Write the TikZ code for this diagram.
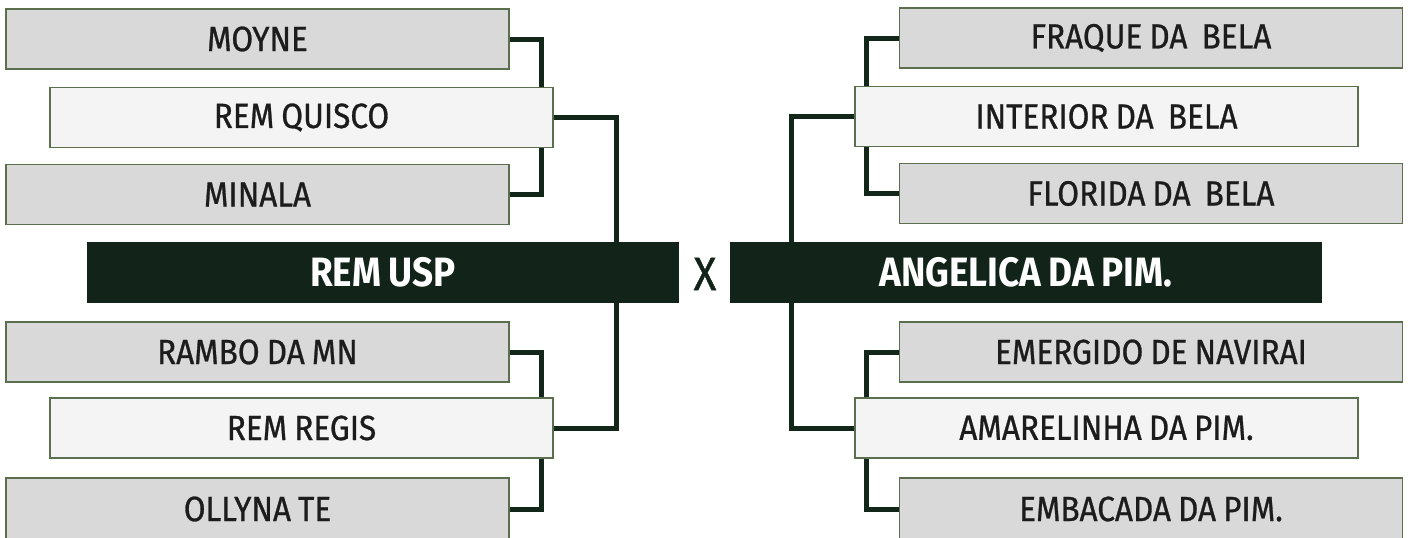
\documentclass[tikz,border=0pt]{standalone}
\usepackage{fontspec}
\setmainfont{Fira Sans}[FakeStretch=0.9, WordSpace=0.85, UprightFeatures={FakeBold=0.8}]
\usetikzlibrary{backgrounds}
\definecolor{darkg}{HTML}{12241A}
\definecolor{lineg}{HTML}{13261A}
\definecolor{bordg}{HTML}{5B6E4E}
\definecolor{outerfill}{HTML}{D9D9D9}
\definecolor{midfill}{HTML}{F4F4F4}
\definecolor{txt}{HTML}{1C1C1C}
\tikzset{
  box/.style={rectangle, draw=bordg, line width=1.3pt, inner sep=0pt,
    minimum width=503pt, minimum height=60pt, text=txt,
    font=\fontsize{35}{35}\selectfont},
  outerbox/.style={box, fill=outerfill},
  midbox/.style={box, fill=midfill},
  teambox/.style={rectangle, fill=darkg, inner sep=0pt, minimum width=592pt,
    minimum height=61pt, text=white, font=\fontsize{41}{41}\selectfont\bfseries},
  conn/.style={draw=lineg, line width=5pt}
}
\begin{document}
\begin{tikzpicture}[x=1pt,y=-1pt]
\useasboundingbox (0,0) rectangle (1408,538);
% left
\node[outerbox] (moyne) at (257.5,39) {MOYNE};
\node[midbox] (quisco) at (301.5,117.5) {REM QUISCO};
\node[outerbox] (minala) at (257.5,194.5) {MINALA};
\node[teambox] (usp) at (383,272.5) {REM USP};
\node[outerbox] (rambo) at (257.5,352) {RAMBO DA MN};
\node[midbox] (regis) at (301.5,428) {REM REGIS};
\node[outerbox, minimum height=62pt] (ollyna) at (257.5,509) {OLLYNA TE};
% center
\node[text=darkg, font=\fontsize{47}{47}\selectfont, inner sep=0pt] (vs) at (705,274) {X};
% right
\node[outerbox] (fraque) at (1151,38) {FRAQUE DA\ \ BELA};
\node[midbox] (interior) at (1106.5,116.5) {INTERIOR DA\ \ BELA};
\node[outerbox] (florida) at (1151,193.5) {FLORIDA DA\ \ BELA};
\node[teambox] (angelica) at (1026,272.5) {ANGELICA DA PIM.};
\node[outerbox] (emergido) at (1151,352) {EMERGIDO DE NAVIRAI};
\node[midbox] (amarelinha) at (1106.5,428) {AMARELINHA DA PIM.};
\node[outerbox, minimum height=62pt] (embacada) at (1151,509) {EMBACADA DA PIM.};
\begin{pgfonlayer}{background}
\draw[conn] (moyne.east) -- ++(32,0) |- (minala.east);
\draw[conn] (rambo.east) -- ++(32,0) |- (ollyna.east);
\draw[conn] (quisco.east) -- ++(63,0) |- (regis.east);
\draw[conn] (fraque.west) -- ++(-32,0) |- (florida.west);
\draw[conn] (emergido.west) -- ++(-32,0) |- (embacada.west);
\draw[conn] (interior.west) -- ++(-63,0) |- (amarelinha.west);
\end{pgfonlayer}
\end{tikzpicture}
\end{document}
